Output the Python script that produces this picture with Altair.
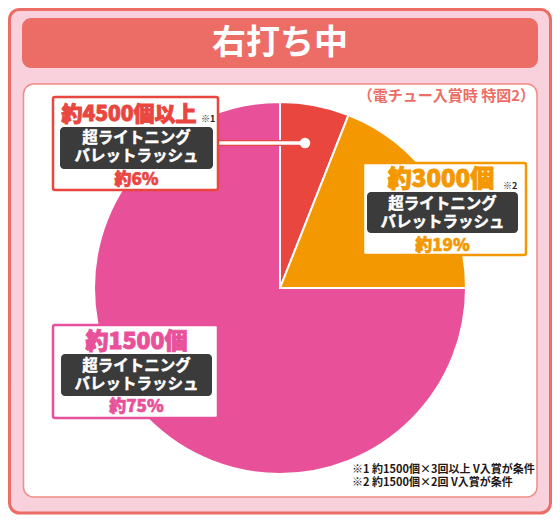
import altair as alt
import pandas as pd

# ---- data ----
tiers = ["約4500個以上", "約3000個", "約1500個"]
shares = [6, 19, 75]
ranks = [1, 2, 3]
notes = ["※1", "※2", ""]
mode_lines = ["超ライトニング", "バレットラッシュ"]
title_text = "右打ち中"
subtitle_text = "（電チュー入賞時 特図2）"
footnotes = ["※1 約1500個×3回以上 V入賞が条件", "※2 約1500個×2回 V入賞が条件"]

pie_df = pd.DataFrame({"tier": tiers, "share": shares, "rank": ranks})
one = pd.DataFrame({"k": [0]})

FONT = "Noto Sans CJK JP"
RED = "#E8463F"
ORANGE = "#F39800"
PINK = "#E8519A"
DARK = "#3B3B3B"
SALMON = "#EC6D66"

W, H = 544, 507
OX, OY = 8, 8  # page margin offset: chart coord = reference coord - 8


def rect(x, x2, y, y2, fill, stroke=None, sw=None, r=None, raw=False):
    kw = {"fill": fill}
    if stroke is not None:
        kw["stroke"] = stroke
        kw["strokeWidth"] = sw
    if r is not None:
        kw["cornerRadius"] = r
    ox, oy = (0, 0) if raw else (OX, OY)
    return alt.Chart(one).mark_rect(**kw).encode(
        x=alt.value(x - ox), x2=alt.value(x2 - ox),
        y=alt.value(y - oy), y2=alt.value(y2 - oy))


def text(s, x, y, size, color, weight="bold", align="center", lh=None, thick=None):
    kw = dict(text=s, font=FONT, fontSize=size, fontWeight=weight, color=color,
              align=align, baseline="middle")
    if lh is not None:
        kw["lineHeight"] = lh
    if thick is not None:
        kw["stroke"] = color
        kw["strokeWidth"] = thick
    return alt.Chart(one).mark_text(**kw).encode(
        x=alt.value(x - OX), y=alt.value(y - OY))


layers = []
# outer frame (drawn in chart coordinates, fills the whole chart)
layers.append(rect(1.5, W - 1.5, 1.5, H - 2, "#F9D1DC", SALMON, 3, 10, raw=True))
# title bar
layers.append(rect(22, 538, 18, 68, SALMON, r=9))
layers.append(text(title_text, 280, 44, 34, "white", weight="bold"))
# white panel
layers.append(rect(23.5, 537, 84, 497, "white", "#F08C86", 1.5, 10))
layers.append(text(subtitle_text, 535, 96, 15, SALMON, align="right"))

# pie
pie = alt.Chart(pie_df).mark_arc(outerRadius=186, stroke="white", strokeWidth=2).encode(
    theta=alt.Theta("share:Q", stack=True),
    color=alt.Color("tier:N", scale=alt.Scale(domain=tiers, range=[RED, ORANGE, PINK]), legend=None),
    order=alt.Order("rank:Q"),
    x=alt.value(280 - OX), y=alt.value(288 - OY),
)
layers.append(pie)

# connector for 6% slice
layers.append(alt.Chart(one).mark_rule(color=RED, strokeWidth=6).encode(
    x=alt.value(217 - OX), x2=alt.value(305 - OX), y=alt.value(143 - OY)))
layers.append(alt.Chart(one).mark_rule(color="white", strokeWidth=3.5).encode(
    x=alt.value(216 - OX), x2=alt.value(305 - OX), y=alt.value(143 - OY)))
layers.append(alt.Chart(one).mark_point(filled=True, color="white", size=110, opacity=1, shape="circle").encode(
    x=alt.value(305 - OX), y=alt.value(143 - OY)))

# label boxes (my = y of first mode line)
boxes = [
    dict(b=(53, 218, 97, 190), d=(60, 213, 127, 169), hx=129, hy=115, my=137.5, py=180, cx=136.5,
         nx=201, ny=119, col=RED, hs=21),
    dict(b=(363, 526, 163, 255), d=(367, 518, 192, 233), hx=441, hy=180, my=203.5, py=246, cx=442.5,
         nx=503, ny=186, col=ORANGE, hs=24),
    dict(b=(53, 218, 325, 418), d=(61, 212, 354, 396), hx=136.5, hy=342, my=365.5, py=407, cx=136.5,
         nx=0, ny=0, col=PINK, hs=23),
]
for i, bx in enumerate(boxes):
    x1, x2, y1, y2 = bx["b"]
    layers.append(rect(x1, x2, y1, y2, "white", bx["col"], 2.5, 2))
    dx1, dx2, dy1, dy2 = bx["d"]
    layers.append(rect(dx1, dx2, dy1, dy2, DARK, r=4))
    layers.append(text(tiers[i], bx["hx"], bx["hy"], bx["hs"], bx["col"], weight=900, thick=0.9))
    if notes[i]:
        layers.append(text(notes[i], bx["nx"], bx["ny"], 9, "#222222", align="left"))
    layers.append(text(mode_lines, bx["cx"], bx["my"], 15.5, "white", lh=18, thick=0.5))
    layers.append(text(f"約{shares[i]}%", bx["cx"], bx["py"], 17, bx["col"], weight=900, thick=0.6))

# footnotes
layers.append(text(footnotes, 352, 470, 11, "#231815", align="left", lh=13))

chart = alt.layer(*layers).properties(
    width=W, height=H, padding=0, autosize=alt.AutoSizeParams(type="none"), background="white"
).configure_view(stroke=None)

chart.save("out.html", embed_options={"renderer": "svg", "actions": False})
